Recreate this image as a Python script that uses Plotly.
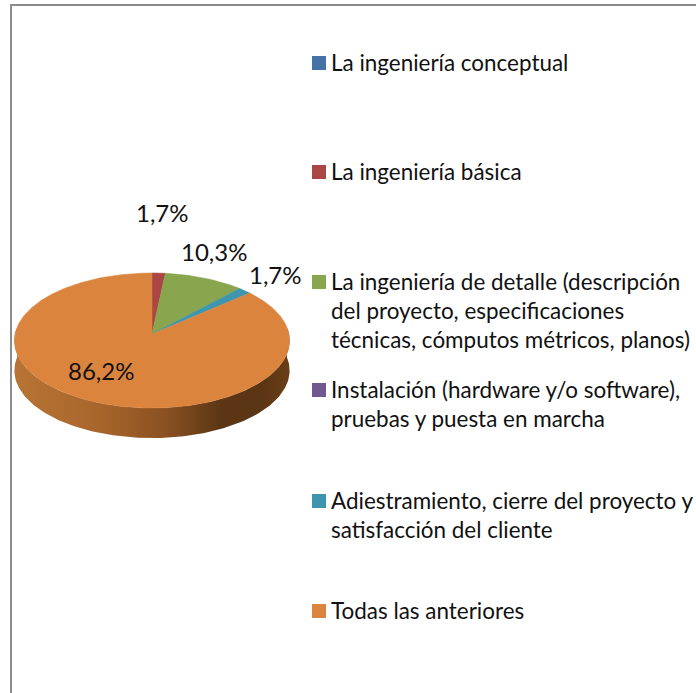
import numpy as np
import plotly.graph_objects as go

categories = [
    "La ingeniería conceptual",
    "La ingeniería básica",
    "La ingeniería de detalle (descripción<br>del proyecto, especificaciones<br>técnicas, cómputos métricos, planos)",
    "Instalación (hardware y/o software),<br>pruebas y puesta en marcha",
    "Adiestramiento, cierre del proyecto y<br>satisfacción del cliente",
    "Todas las anteriores",
]
values = [0.0, 1.7, 10.3, 0.0, 1.7, 86.2]
colors = ["#4572A7", "#AA4643", "#89A54E", "#71588F", "#3D96AE", "#DB843D"]

W, H = 696, 693
FONT = "Lato"
CX, CY = 152, 334
A, B, K = 137.0, 66.9, 0.0963
DEPTH = 30
LEG_SIZE = 22.45
LINE_H = LEG_SIZE * 1.3
label_pos = {1: (162, 212.5), 2: (214, 251.5), 4: (275, 274.5), 5: (101, 370.5)}
legend_y = [63, 172, 282, 390, 501, 611]


def project(theta):
    sx, sy = np.sin(theta), np.cos(theta)
    d = 1 + K * sy
    return CX + A * sx / d, CY - B * sy / d


def fmt(v):
    return f"{v:.1f}".replace(".", ",") + "%"


fig = go.Figure()

# side wall
th = np.radians(np.linspace(84, 276, 200))
xa, ya = project(th)
fig.add_trace(go.Scatter(
    x=np.r_[xa, xa[::-1]], y=np.r_[ya, ya[::-1] + DEPTH],
    mode="lines", line=dict(width=0), fill="toself",
    fillgradient=dict(type="horizontal", colorscale=[
        [0.0, "#B87434"], [0.3, "#A9662C"], [0.55, "#8A5122"],
        [0.75, "#5C3614"], [0.9, "#5A3514"], [1.0, "#6B3F18"]]),
    hoverinfo="skip", showlegend=False))

# top face: slices computed from the values
total = sum(values)
start = 0.0
for v, c in zip(values, colors):
    if v > 0:
        end = start + v / total * 2 * np.pi
        t = np.linspace(start, end, max(3, int(v * 6)))
        x, y = project(t)
        fig.add_trace(go.Scatter(
            x=np.r_[CX, x, CX], y=np.r_[CY, y, CY],
            mode="lines", line=dict(width=0.5, color=c), fill="toself",
            fillcolor=c, hoverinfo="skip", showlegend=False))
        start = end

annotations = []
for i, (lx, ly) in label_pos.items():
    annotations.append(dict(x=lx, y=ly, xref="x", yref="y", text=fmt(values[i]),
                            showarrow=False, font=dict(family=FONT, size=24, color="#111")))

# legend
fig.add_trace(go.Scatter(
    x=[319] * len(colors), y=legend_y, mode="markers",
    marker=dict(symbol="square", size=14, color=colors, line=dict(width=0)),
    hoverinfo="skip", showlegend=False))
for cat, ly in zip(categories, legend_y):
    n = cat.count("<br>")
    annotations.append(dict(x=329, y=ly - 1 + n * LINE_H / 2, xref="x", yref="y", text=cat,
                            align="left", xanchor="left", yanchor="middle", showarrow=False,
                            font=dict(family=FONT, size=LEG_SIZE, color="#111")))

fig.update_layout(
    width=W, height=H, autosize=False,
    margin=dict(l=0, r=0, t=0, b=0),
    paper_bgcolor="white", plot_bgcolor="white",
    xaxis=dict(range=[0, W], visible=False, fixedrange=True),
    yaxis=dict(range=[H, 0], visible=False, fixedrange=True),
    annotations=annotations,
    shapes=[dict(type="path", path=f"M 11 {H} L 11 5 L {W} 5", xref="x", yref="y",
                 line=dict(color="#8C8C8C", width=2))],
)
fig.write_html("out.html", config={"displayModeBar": False},
               post_script="document.body.style.margin='0';document.documentElement.style.overflow='hidden';")
